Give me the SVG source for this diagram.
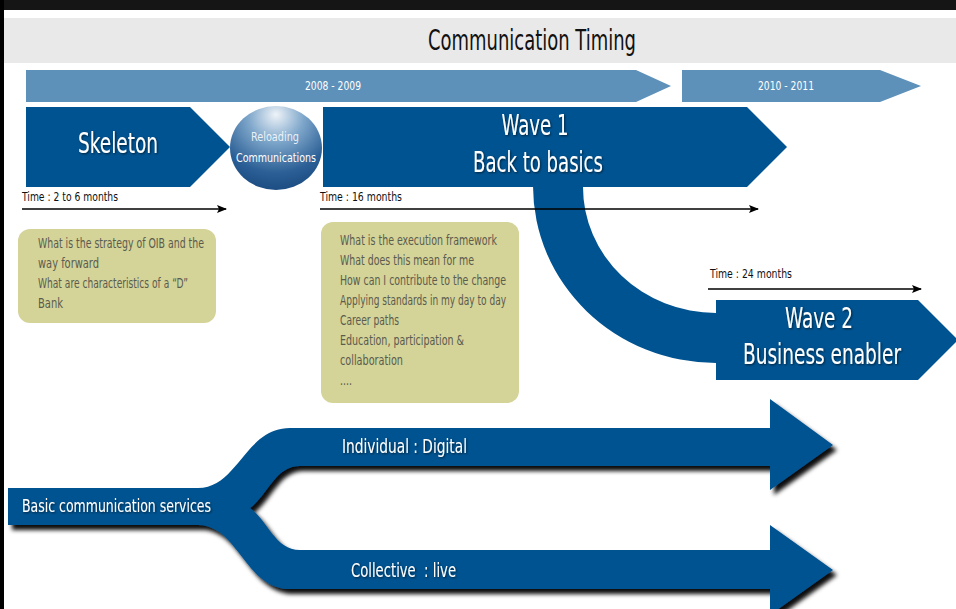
<svg xmlns="http://www.w3.org/2000/svg" width="956" height="609" viewBox="0 0 956 609">
  <defs>
    <style>
      text { font-family: "DejaVu Sans Condensed", "Liberation Sans", sans-serif; }
      .wave { fill: #005391; }
      .bar { fill: #5d91ba; }
      .big { fill: #ffffff; font-size: 28px; text-anchor: middle; filter: url(#tshadow); }
      .year { fill: #ffffff; font-size: 13px; text-anchor: middle; }
      .time { fill: #111111; font-size: 13px; }
      .note { fill: #d4d398; }
      .ntext { fill: #5b5b4e; font-size: 14px; }
      .ftext { fill: #ffffff; filter: url(#tshadow); }
      .tline { stroke: #000000; stroke-width: 1.5; fill: none; marker-end: url(#ah); }
    </style>
    <marker id="ah" viewBox="0 0 10 8" refX="9" refY="4" markerWidth="10" markerHeight="8" markerUnits="userSpaceOnUse" orient="auto">
      <path d="M0,0 L10,4 L0,8 L2,4 Z" fill="#000"/>
    </marker>
    <radialGradient id="orb" cx="50%" cy="18%" r="85%" fx="50%" fy="10%">
      <stop offset="0" stop-color="#eef3f8"/>
      <stop offset="0.35" stop-color="#7fa7cb"/>
      <stop offset="0.75" stop-color="#2b5f95"/>
      <stop offset="1" stop-color="#1a4a80"/>
    </radialGradient>
    <filter id="shadow" x="-10%" y="-10%" width="130%" height="140%">
      <feDropShadow dx="4" dy="5" stdDeviation="2" flood-color="#000" flood-opacity="0.95"/>
    </filter>
    <filter id="tshadow" x="-10%" y="-20%" width="130%" height="150%">
      <feDropShadow dx="1" dy="1" stdDeviation="0.8" flood-color="#000" flood-opacity="0.6"/>
    </filter>
  </defs>

  <rect x="0" y="0" width="956" height="609" fill="#ffffff"/>
  <rect x="0" y="0" width="956" height="10" fill="#151515"/>
  <rect x="0" y="0" width="4" height="609" fill="#000000"/>

  <g id="title">
    <rect x="4" y="18" width="952" height="45" fill="#e9e9e9"/>
    <text x="532" y="50" font-size="28" fill="#111" text-anchor="middle" textLength="208" lengthAdjust="spacingAndGlyphs">Communication Timing</text>
  </g>

  <g id="period-2008-2009">
    <polygon class="bar" points="26,70 636,70 671,86 636,102 26,102"/>
    <text class="year" x="333" y="90" textLength="56" lengthAdjust="spacingAndGlyphs">2008 - 2009</text>
  </g>
  <g id="period-2010-2011">
    <polygon class="bar" points="682,70 880,70 921,86 880,102 682,102"/>
    <text class="year" x="786" y="90" textLength="56" lengthAdjust="spacingAndGlyphs">2010 - 2011</text>
  </g>

  <g id="connectors">
    <path class="wave" d="M533,186 A183,177 0 0 0 716,363 L716,313 A133,126 0 0 1 583,186 Z"/>
    <path class="wave" filter="url(#shadow)" d="M8,488 H198 C238,488 245,428 290,428 H770 V399 L833,445 L770,490 V466 H300 C275,466 268,495 250,508 C268,521 275,550 300,550 H770 V525 L833,570 L770,615 V589 H290 C245,589 238,525 198,525 H8 Z"/>
    <line class="tline" x1="22" y1="209" x2="226" y2="209"/>
    <line class="tline" x1="320" y1="209" x2="758" y2="209"/>
    <line class="tline" x1="708" y1="289" x2="921" y2="289"/>
  </g>

  <g id="skeleton">
    <polygon class="wave" points="26,107 190,107 230,147 190,187 26,187"/>
    <text class="big" x="118" y="153" font-size="29" textLength="80" lengthAdjust="spacingAndGlyphs">Skeleton</text>
    <text class="time" x="22" y="201" textLength="96" lengthAdjust="spacingAndGlyphs">Time : 2 to 6 months</text>
  </g>

  <g id="reloading">
    <ellipse cx="276" cy="148" rx="46" ry="42" fill="url(#orb)"/>
    <text class="year" x="275" y="141" textLength="48" lengthAdjust="spacingAndGlyphs" fill-opacity="0.85">Reloading</text>
    <text class="year" x="276" y="162" textLength="80" lengthAdjust="spacingAndGlyphs">Communications</text>
  </g>

  <g id="wave1">
    <polygon class="wave" points="323,107 747,107 787,147 747,187 323,187"/>
    <text class="big" x="535" y="135" textLength="67" lengthAdjust="spacingAndGlyphs">Wave 1</text>
    <text class="big" x="538" y="172" textLength="130" lengthAdjust="spacingAndGlyphs">Back to basics</text>
    <text class="time" x="320" y="201" textLength="82" lengthAdjust="spacingAndGlyphs">Time : 16 months</text>
  </g>

  <g id="wave2">
    <polygon class="wave" points="716,300 918,300 958,340 918,380 716,380"/>
    <text class="big" x="819" y="328" textLength="68" lengthAdjust="spacingAndGlyphs">Wave 2</text>
    <text class="big" x="822" y="364" textLength="158" lengthAdjust="spacingAndGlyphs">Business enabler</text>
    <text class="time" x="710" y="278" textLength="82" lengthAdjust="spacingAndGlyphs">Time : 24 months</text>
  </g>

  <g id="note-skeleton">
    <rect class="note" x="18" y="229" width="198" height="94" rx="12"/>
    <text class="ntext" x="38" y="248" textLength="166" lengthAdjust="spacingAndGlyphs">What is the strategy of OIB and the</text>
    <text class="ntext" x="38" y="268" textLength="61" lengthAdjust="spacingAndGlyphs">way forward</text>
    <text class="ntext" x="38" y="288" textLength="150" lengthAdjust="spacingAndGlyphs">What are characteristics of a “D”</text>
    <text class="ntext" x="38" y="308" textLength="25" lengthAdjust="spacingAndGlyphs">Bank</text>
  </g>

  <g id="note-wave1">
    <rect class="note" x="321" y="222" width="198" height="181" rx="12"/>
    <text class="ntext" x="340" y="245" textLength="157" lengthAdjust="spacingAndGlyphs">What is the execution framework</text>
    <text class="ntext" x="340" y="265" textLength="134" lengthAdjust="spacingAndGlyphs">What does this mean for me</text>
    <text class="ntext" x="340" y="285" textLength="166" lengthAdjust="spacingAndGlyphs">How can I contribute to the change</text>
    <text class="ntext" x="340" y="305" textLength="166" lengthAdjust="spacingAndGlyphs">Applying standards in my day to day</text>
    <text class="ntext" x="340" y="325" textLength="59" lengthAdjust="spacingAndGlyphs">Career paths</text>
    <text class="ntext" x="340" y="345" textLength="124" lengthAdjust="spacingAndGlyphs">Education, participation &amp;</text>
    <text class="ntext" x="340" y="365" textLength="63" lengthAdjust="spacingAndGlyphs">collaboration</text>
    <text class="ntext" x="340" y="385" textLength="12" lengthAdjust="spacingAndGlyphs">....</text>
  </g>

  <g id="basic-services">
    <text class="ftext" x="22" y="512" font-size="17" textLength="189" lengthAdjust="spacingAndGlyphs">Basic communication services</text>
  </g>
  <g id="individual-digital">
    <text class="ftext" x="342" y="453" font-size="20" textLength="125" lengthAdjust="spacingAndGlyphs">Individual : Digital</text>
  </g>
  <g id="collective-live">
    <text class="ftext" x="351" y="577" font-size="20" textLength="105" lengthAdjust="spacingAndGlyphs" xml:space="preserve">Collective  : live</text>
  </g>
</svg>
